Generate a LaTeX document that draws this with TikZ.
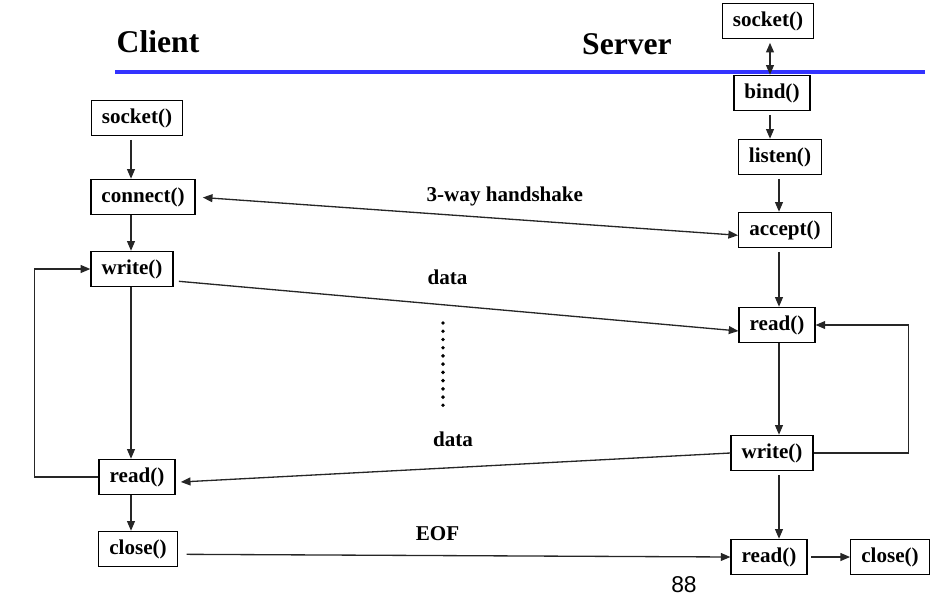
\documentclass[tikz,border=0pt]{standalone}
\usepackage{fontspec}
\setmainfont{Liberation Serif}
\newfontfamily\pagefont{Liberation Sans}
\usetikzlibrary{arrows.meta}
\definecolor{rulecol}{RGB}{51,51,255}

\begin{document}
\begin{tikzpicture}[x=0.02cm, y=-0.02cm,
      call/.style={draw=black, line width=0.8pt, fill=white,
        font=\fontsize{12}{14}\selectfont\bfseries, inner xsep=6pt, inner ysep=2pt,
        minimum height=20pt},
      head/.style={font=\fontsize{18}{22}\selectfont\bfseries, inner sep=0pt},
      flow/.style={-{Triangle[length=5.5pt,width=4.5pt]}, line width=0.75pt, draw=black!85},
      both/.style={{Triangle[length=5.5pt,width=4.5pt]}-{Triangle[length=5.5pt,width=4.5pt]},
        line width=0.75pt, draw=black!85},
      etq/.style={font=\fontsize{12}{14}\selectfont\bfseries, inner sep=2pt},
      rule/.style={draw=rulecol, line width=2.3pt}
    ]
    \useasboundingbox (0,0) rectangle (938,600);
    \node[head] (client) at (158,42) {Client};
    \node[head] (server) at (627,44) {Server};
    \draw[rule] (115,72) -- (925,72);
    \coordinate (clix) at (131,0);
    \coordinate (topx) at (770,0);
    \coordinate (srvx) at (779,0);
    \node[call] (sockc)  at (137,118) {socket()};
    \node[call] (conn)   at (143,197) {connect()};
    \node[call] (writec) at (132,269) {write()};
    \node[call] (readc)  at (137,477) {read()};
    \node[call] (closec) at (138,549) {close()};
    \node[call] (socks)  at (768,21)  {socket()};
    \node[call] (bind)   at (772,93)  {bind()};
    \node[call] (listen) at (780,157) {listen()};
    \node[call] (accept) at (785,230) {accept()};
    \node[call] (reads)  at (777,325) {read()};
    \node[call] (writes) at (772,453) {write()};
    \node[call] (reads2) at (769,557) {read()};
    \node[call] (closes) at (890,557) {close()};
    \draw[flow, shorten <=2pt] (sockc.south -| clix) -- (conn.north -| clix);
    \draw[flow] (conn.south -| clix) -- (writec.north -| clix);
    \draw[flow] (writec.south -| clix) -- (readc.north -| clix);
    \draw[flow] (readc.south -| clix) -- (closec.north -| clix);
    \draw[flow] (readc.west) -- ++(-64,0) |- (writec.west);
    \draw[both, shorten <=2pt] (socks.south -| topx) -- (bind.north -| topx);
    \draw[flow, shorten <=2pt] (bind.south -| topx) -- (listen.north -| topx);
    \draw[flow, shorten <=2pt] (listen.south -| srvx) -- (accept.north -| srvx);
    \draw[flow, shorten <=2pt] (accept.south -| srvx) -- (reads.north -| srvx);
    \draw[flow] (reads.south -| srvx) -- (writes.north -| srvx);
    \draw[flow, shorten <=2pt] (writes.south -| srvx) -- (reads2.north -| srvx);
    \draw[flow, shorten <=2pt] (reads2.east) -- (closes.west);
    \draw[flow] (writes.east) -- ++(95,0) |- (reads.east);
    \draw[both, shorten <=4pt] (conn.east) -- node[etq, above=5pt, pos=0.57]{3-way handshake}
      ([yshift=-3pt]accept.west);
    \draw[flow] ([xshift=3pt,yshift=-7pt]writec.east) -- node[etq, above=9pt, pos=0.48]{data}
      ([yshift=-3.4pt]reads.west);
    \draw[flow, shorten >=3pt] (writes.west) -- node[etq, above=9.5pt, pos=0.5]{data}
      ([yshift=-3pt]readc.east);
    \draw[flow, shorten <=5pt] ([yshift=-3pt]closec.east) -- node[etq, above=6pt, pos=0.47]{EOF}
      (reads2.west);
    \foreach \k in {0,...,10} {
      \fill (443,{323+8.23*\k}) circle (1.1pt); }
    \node[font=\pagefont\fontsize{13}{15}\selectfont, inner sep=0pt] (pageno) at (684,585) {88};
  \end{tikzpicture}
\end{document}
